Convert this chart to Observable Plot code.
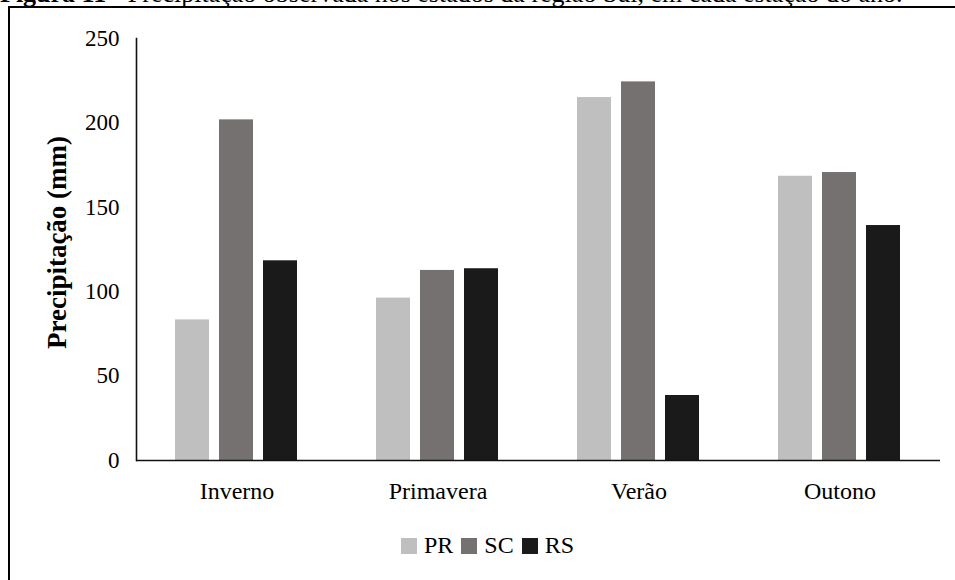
<!DOCTYPE html>
<html>
<head>
<meta charset="utf-8">
<script src="https://cdn.jsdelivr.net/npm/d3@7"></script>
<script src="https://cdn.jsdelivr.net/npm/@observablehq/plot@0.6"></script>
<style>
  html, body { margin: 0; padding: 0; background: #fff; }
  body { width: 955px; height: 580px; position: relative; overflow: hidden; font-family: "Liberation Serif", "Times New Roman", serif; color: #000; }
  #title { position: absolute; left: 0; top: -19px; font-size: 26px; line-height: 1; white-space: nowrap; }
  #box { position: absolute; left: 8px; top: 6px; width: 1000px; height: 620px; border: 2px solid #000; box-sizing: border-box; }
  #chart { position: absolute; left: 0; top: 0; }
  #legend { position: absolute; left: 401px; top: 529px; }
  .lg-swatches-wrap { min-height: 33px !important; }
  .lg-swatch { margin-right: 8px !important; font-size: 24px !important; font-family: "Liberation Serif", "Times New Roman", serif !important; color: #000 !important; }
  .lg-swatch > svg { margin-right: 7px !important; }
</style>
</head>
<body>
<div id="title"><b>Figura 11</b> - Precipitação observada nos estados da região Sul, em cada estação do ano.</div>
<div id="box"></div>
<div id="chart"></div>
<div id="legend"></div>
<script>
const seasons = ["Inverno", "Primavera", "Verão", "Outono"];
const states = ["PR", "SC", "RS"];
const PR = [83.3, 96.2, 215.0, 168.4];
const SC = [201.8, 112.6, 224.3, 170.6];
const RS = [118.3, 113.6, 38.5, 139.2];
const stateColors = ["#bfbfbf", "#767171", "#1a1a1a"];
const yTicks = [0, 50, 100, 150, 200, 250];
const yLabel = "Precipitação (mm)";

const series = [PR, SC, RS];
const data = seasons.flatMap((season, i) =>
  states.map((state, j) => ({season, state, value: series[j][i]}))
);

const font = "'Liberation Serif', 'Times New Roman', serif";

const chart = Plot.plot({
  width: 955,
  height: 510,
  marginTop: 38,
  marginBottom: 50,
  marginLeft: 135,
  marginRight: 15,
  style: {background: "none", fontFamily: font, fontSize: "23px", color: "#000"},
  fx: {domain: seasons, padding: 0, label: null},
  x: {domain: states, paddingInner: 0.222, paddingOuter: 0.85, axis: null},
  y: {domain: [0, 250]},
  color: {domain: states, range: stateColors},
  marks: [
    Plot.barY(data, {fx: "season", x: "state", y: "value", fill: "state"}),
    Plot.ruleY([0], {stroke: "#111", strokeWidth: 1.6}),
    Plot.frame({anchor: "left", facetAnchor: "left", stroke: "#111", strokeWidth: 1.6}),
    Plot.axisY({ticks: yTicks, tickSize: 0, tickPadding: 17, fontSize: 23, label: null}),
    Plot.axisFx({anchor: "bottom", tickSize: 0, tickPadding: 21, fontSize: 24, label: null}),
    Plot.text([yLabel], {text: d => d, frameAnchor: "left", facetAnchor: "left", textAnchor: "middle", lineAnchor: "middle", rotate: -90, dx: -79, dy: -7, fontWeight: "bold", fontSize: 27, fill: "#000"})
  ]
});
document.getElementById("chart").appendChild(chart);

const legend = chart.legend("color", {legend: "swatches", swatchSize: 16, className: "lg", style: {fontSize: "24px", fontFamily: font, color: "#000"}});
document.getElementById("legend").appendChild(legend);
</script>
</body>
</html>
